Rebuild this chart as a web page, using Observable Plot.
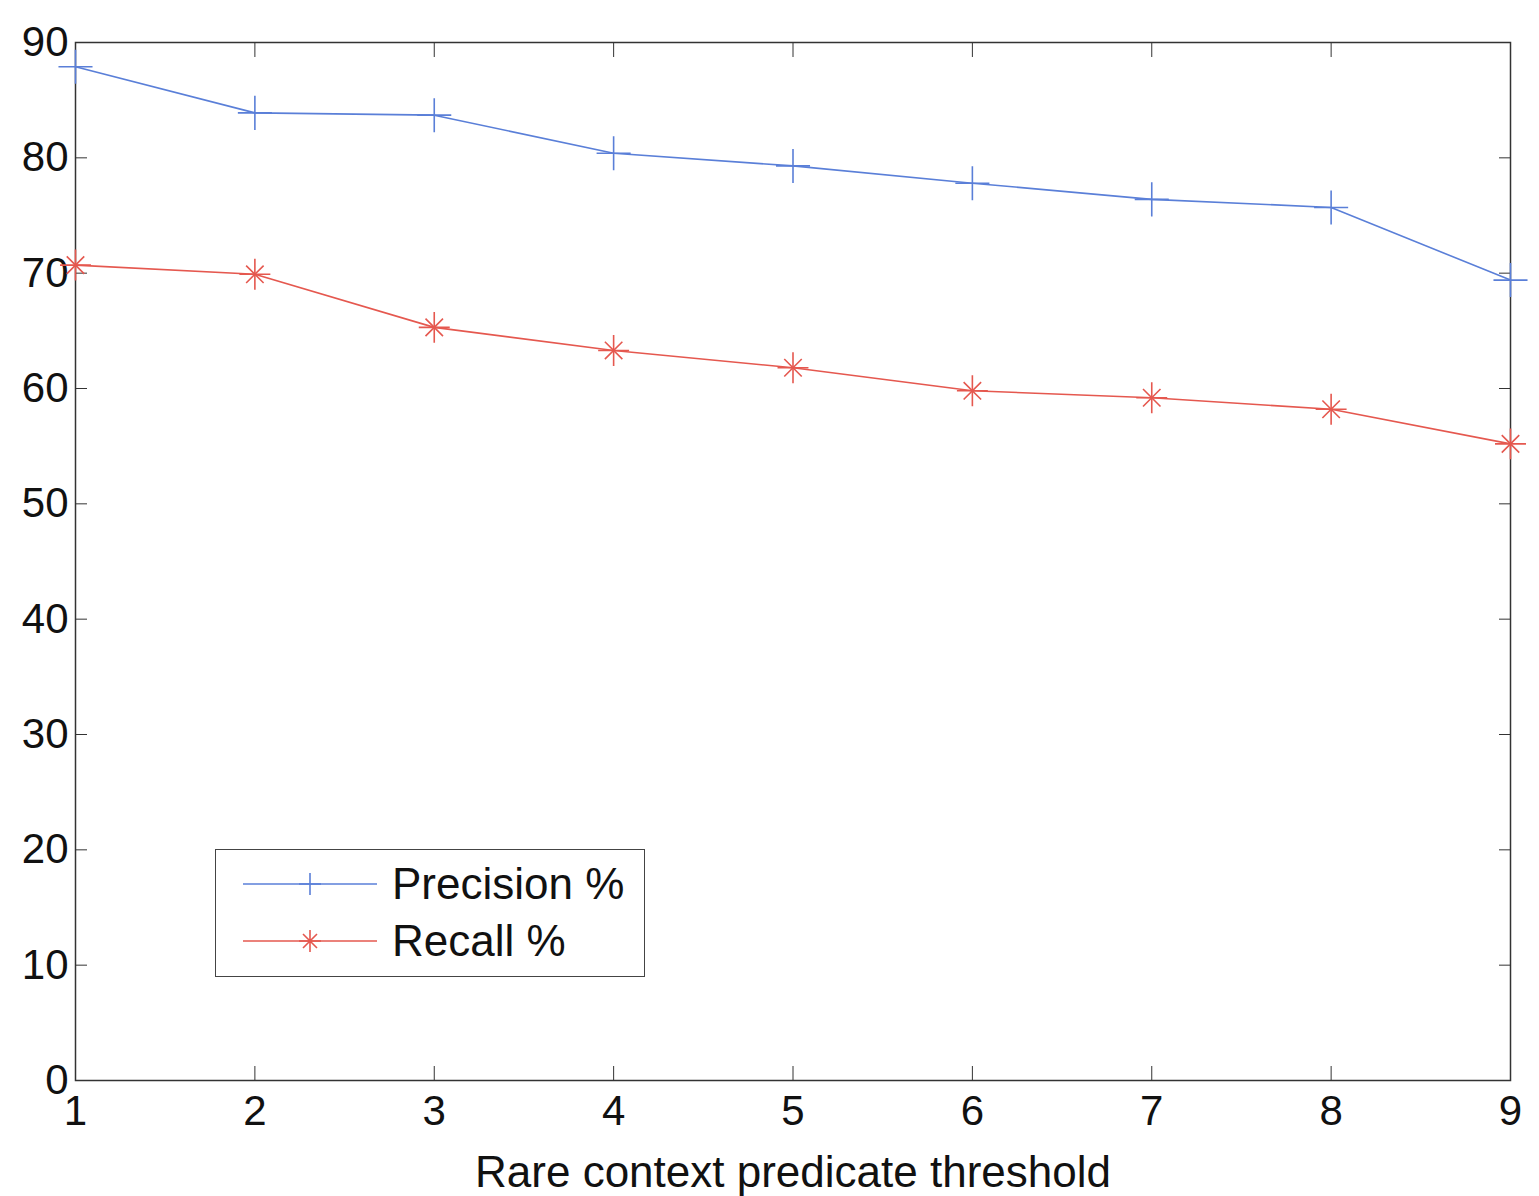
<!DOCTYPE html>
<html>
<head>
<meta charset="utf-8">
<script src="https://cdn.jsdelivr.net/npm/d3@7"></script>
<script src="https://cdn.jsdelivr.net/npm/@observablehq/plot@0.6"></script>
<style>
  html, body { margin: 0; padding: 0; background: #fff; }
  #wrap { position: relative; width: 1539px; height: 1196px; font-family: "Liberation Sans", Arial, Helvetica, sans-serif; }
  #legend { position: absolute; left: 215px; top: 849px; width: 428px; height: 126px; border: 1.5px solid #444; background: #fff; }
  #legend svg { position: absolute; left: 0; top: 0; }
</style>
</head>
<body>
<div id="wrap"></div>
<script>
// ---- data ----
const thresholds = [1, 2, 3, 4, 5, 6, 7, 8, 9];
const precision = [87.9, 83.9, 83.7, 80.4, 79.3, 77.8, 76.4, 75.7, 69.4];
const recall = [70.7, 69.9, 65.3, 63.3, 61.8, 59.8, 59.2, 58.2, 55.2];
const yTicks = [0, 10, 20, 30, 40, 50, 60, 70, 80, 90];
const seriesNames = ["Precision %", "Recall %"];
const xLabel = "Rare context predicate threshold";

const blue = "#5a7fd8";
const red = "#e5584f";

const precData = thresholds.map((x, i) => ({x, y: precision[i]}));
const recData = thresholds.map((x, i) => ({x, y: recall[i]}));

const blank = () => "";
const chart = Plot.plot({
  width: 1539,
  height: 1196,
  marginLeft: 75,
  marginRight: 29,
  marginTop: 42,
  marginBottom: 116,
  style: {fontFamily: '"Liberation Sans", Arial, Helvetica, sans-serif', color: "#111", background: "#fff"},
  x: {domain: [1, 9]},
  y: {domain: [0, 90]},
  marks: [
    Plot.frame({stroke: "#333", strokeWidth: 1.5}),
    // tick labels
    Plot.axisY({anchor: "left", ticks: yTicks, tickSize: 0, tickPadding: 7, fontSize: 42, label: null}),
    Plot.axisX({anchor: "bottom", ticks: thresholds, tickSize: 0, tickPadding: 15, fontSize: 42,
      label: xLabel, labelAnchor: "center", labelArrow: "none", labelOffset: 106}),
    // inward ticks on all four sides
    Plot.axisY({anchor: "left", ticks: yTicks, tickSize: -12, tickFormat: blank, label: null, stroke: "#333"}),
    Plot.axisY({anchor: "right", ticks: yTicks, tickSize: -12, tickFormat: blank, label: null, stroke: "#333"}),
    Plot.axisX({anchor: "bottom", ticks: thresholds, tickSize: -14, tickFormat: blank, label: null, stroke: "#333"}),
    Plot.axisX({anchor: "top", ticks: thresholds, tickSize: -14, tickFormat: blank, label: null, stroke: "#333"}),
    // series
    Plot.line(precData, {x: "x", y: "y", stroke: blue, strokeWidth: 1.6}),
    Plot.line(recData, {x: "x", y: "y", stroke: red, strokeWidth: 1.6}),
    Plot.dot(precData, {x: "x", y: "y", symbol: "plus", r: 11, stroke: blue, strokeWidth: 1.6}),
    Plot.dot(recData, {x: "x", y: "y", symbol: "plus", r: 10, stroke: red, strokeWidth: 1.6}),
    Plot.dot(recData, {x: "x", y: "y", symbol: "times", r: 8, stroke: red, strokeWidth: 1.6})
  ]
});
const wrap = document.getElementById("wrap");
wrap.appendChild(chart);
// enlarge the x-axis title
chart.querySelectorAll("text").forEach(t => {
  if (t.textContent === xLabel) {
    t.setAttribute("font-size", 44);
    if (t.parentNode && t.parentNode.tagName === "g") t.parentNode.setAttribute("font-size", 44);
  }
});

// ---- legend ----
const legend = document.createElement("div");
legend.id = "legend";
const ns = "http://www.w3.org/2000/svg";
const lsvg = document.createElementNS(ns, "svg");
lsvg.setAttribute("width", 428);
lsvg.setAttribute("height", 126);
const colors = [blue, red];
seriesNames.forEach((name, i) => {
  const cy = 34 + i * 57;
  const line = document.createElementNS(ns, "line");
  line.setAttribute("x1", 27); line.setAttribute("x2", 161);
  line.setAttribute("y1", cy); line.setAttribute("y2", cy);
  line.setAttribute("stroke", colors[i]); line.setAttribute("stroke-width", 1.6);
  lsvg.appendChild(line);
  const mk = document.createElementNS(ns, "path");
  const r = 11;
  let d = `M94,${cy - r}V${cy + r}M${94 - r},${cy}H${94 + r}`;
  if (i === 1) { const s = 7; d += `M${94 - s},${cy - s}L${94 + s},${cy + s}M${94 - s},${cy + s}L${94 + s},${cy - s}`; }
  mk.setAttribute("d", d);
  mk.setAttribute("stroke", colors[i]); mk.setAttribute("stroke-width", 1.6); mk.setAttribute("fill", "none");
  lsvg.appendChild(mk);
  const txt = document.createElementNS(ns, "text");
  txt.setAttribute("x", 176); txt.setAttribute("y", cy);
  txt.setAttribute("dy", "0.35em");
  txt.setAttribute("font-size", 44);
  txt.setAttribute("font-family", '"Liberation Sans", Arial, Helvetica, sans-serif');
  txt.setAttribute("fill", "#111");
  txt.textContent = name;
  lsvg.appendChild(txt);
});
legend.appendChild(lsvg);
wrap.appendChild(legend);
</script>
</body>
</html>
